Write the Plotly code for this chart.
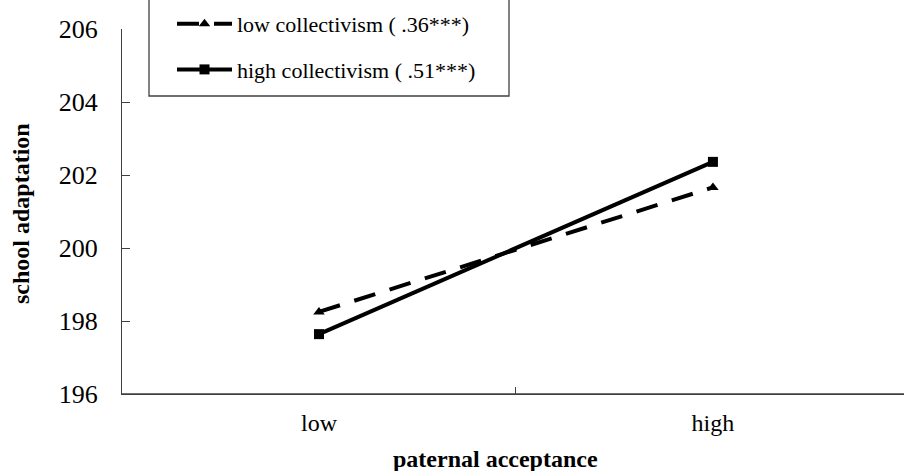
import plotly.graph_objects as go

categories = ["low", "high"]
low_collectivism = [198.25, 201.66]
high_collectivism = [197.64, 202.36]
series_names = ["low collectivism ( .36***)", "high collectivism ( .51***)"]
y_ticks = [196, 198, 200, 202, 204, 206]

W, H = 904, 471
ML, MR, MT, MB = 122, 0, 29, 77
PW, PH = W - ML - MR, H - MT - MB

def px_x(p):
    return (p - ML) / PW

def px_y(p):
    return (H - MB - p) / PH

FONT = "Liberation Serif"
AXC = "#404040"

fig = go.Figure()
fig.add_trace(go.Scatter(
    x=categories, y=low_collectivism, name=series_names[0], mode="lines+markers",
    line=dict(color="black", width=4, dash="22px,15px"),
    marker=dict(symbol="triangle-up", size=10, color="black"),
    legendgroup="a",
))
fig.add_trace(go.Scatter(
    x=categories, y=high_collectivism, name=series_names[1], mode="lines+markers",
    line=dict(color="black", width=4),
    marker=dict(symbol="square", size=10, color="black"),
    legendgroup="b",
))

# legend frame
fig.add_shape(type="rect", xref="paper", yref="paper",
              x0=px_x(149), x1=px_x(509), y0=px_y(96), y1=px_y(-1),
              line=dict(color=AXC, width=1.3), fillcolor="rgba(0,0,0,0)")
# x-axis baseline across the full width
fig.add_shape(type="line", xref="paper", yref="paper",
              x0=0, x1=1, y0=0, y1=0, layer="below",
              line=dict(color=AXC, width=1.3))

fig.add_annotation(text="<b>paternal acceptance</b>", xref="paper", yref="paper",
                   x=px_x(495), y=px_y(459), showarrow=False,
                   font=dict(family=FONT, size=24, color="black"),
                   xanchor="center", yanchor="middle")
fig.add_annotation(text="<b>school adaptation</b>", xref="paper", yref="paper",
                   x=px_x(21), y=px_y(214), showarrow=False, textangle=-90,
                   font=dict(family=FONT, size=24, color="black"),
                   xanchor="center", yanchor="middle")

fig.update_layout(
    width=W, height=H,
    margin=dict(l=ML, r=MR, t=MT, b=MB, pad=0, autoexpand=False),
    paper_bgcolor="white", plot_bgcolor="white",
    font=dict(family=FONT, color="black"),
    showlegend=True,
    legend=dict(
        x=px_x(172), y=px_y(3), xanchor="left", yanchor="top",
        bgcolor="rgba(0,0,0,0)", borderwidth=0,
        font=dict(family=FONT, size=22, color="black"),
        itemwidth=55, tracegroupgap=14, traceorder="grouped",
    ),
    xaxis=dict(
        type="category", range=[-0.5, 1.485],
        showline=True, linecolor=AXC, linewidth=1.3,
        showgrid=False, zeroline=False,
        ticks="inside", tickson="boundaries", ticklen=7, tickcolor=AXC, tickwidth=1.3,
        tickfont=dict(family=FONT, size=24, color="black"),
        ticklabelstandoff=7,
    ),
    yaxis=dict(
        range=[196, 206], tickvals=y_ticks,
        showline=True, linecolor=AXC, linewidth=1.3,
        showgrid=False, zeroline=False,
        ticks="inside", ticklen=8, tickcolor=AXC, tickwidth=1.3,
        tickfont=dict(family=FONT, size=26, color="black"),
        ticklabelstandoff=18,
    ),
)

fig.write_html("out.html", config={"displayModeBar": False},
               post_script="document.body.style.margin='0';document.body.style.overflow='hidden';")
